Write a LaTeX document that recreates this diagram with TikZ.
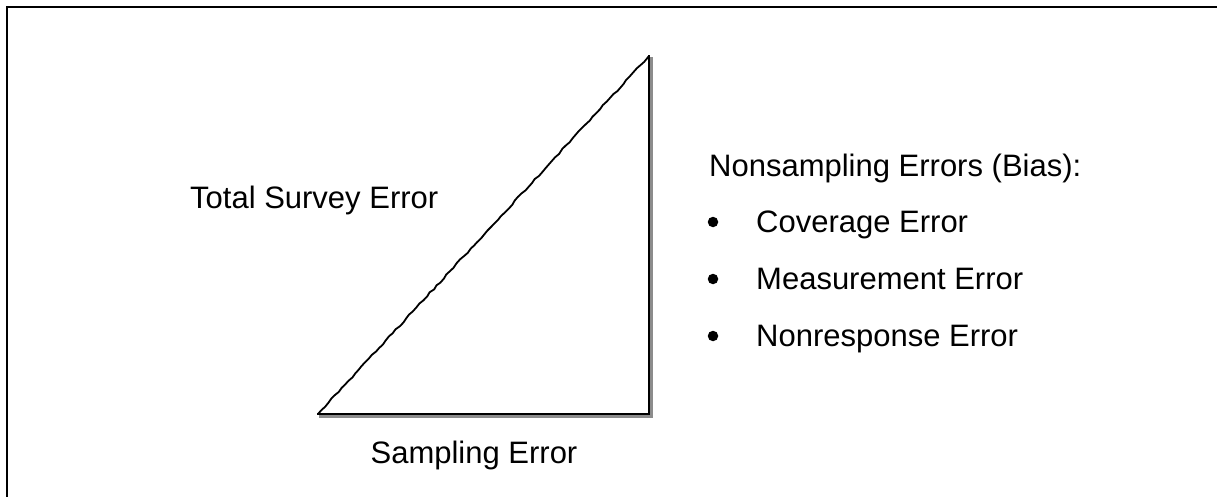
\documentclass[tikz,border=0pt]{standalone}
\usepackage{fontspec}
\setmainfont{Liberation Sans}
\usetikzlibrary{positioning, decorations.pathmorphing}

\begin{document}
\begin{tikzpicture}[x=1pt, y=-1pt,
  errtext/.style={inner sep=0pt, font=\fontsize{31}{37}\selectfont},
  dotbox/.style={circle, fill=black, inner sep=0pt, minimum size=10.5pt},
  side/.style={line width=2.6pt, line cap=rect},
  sideshadow/.style={line width=2.6pt, line cap=rect, black!45},
  hypo/.style={line width=1.8pt, decorate,
               decoration={random steps, segment length=5pt, amplitude=0.7pt}},
]
  \useasboundingbox (0,0) rectangle (1217,497);
  % frame, cut off by the page on the right and at the bottom
  \draw[line width=2.6pt] (1217,7) -- (7,7) -- (7,497);

  % the error triangle
  \coordinate (base) at (318,414);
  \coordinate (corner) at (649,414);
  \coordinate (apex) at (649,56);
  \draw[sideshadow] ([shift={(2,2.5)}]base) -- ([shift={(2.5,2.5)}]corner)
    -- ([shift={(2.5,2)}]apex);
  \pgfmathsetseed{7}
  \draw[hypo] (base) -- (apex);
  \draw[side] (base) -- (corner) -- (apex);

  \node[errtext, anchor=base west] (total) at (190,208) {Total Survey Error};
  \node[errtext, anchor=base] (sampling) at (474,463) {Sampling Error};
  \node[errtext, anchor=base west] (nonsampling) at (709,176) {Nonsampling Errors (Bias):};
  \foreach \name/\txt [count=\i] in {coverage/Coverage Error,
      measurement/Measurement Error, nonresponse/Nonresponse Error} {
    \node[dotbox] (dot\i) at (713,165+57*\i) {};
    \node[errtext, anchor=base west] (\name) at (756,175+57*\i) {\txt};
  }
\end{tikzpicture}
\end{document}
